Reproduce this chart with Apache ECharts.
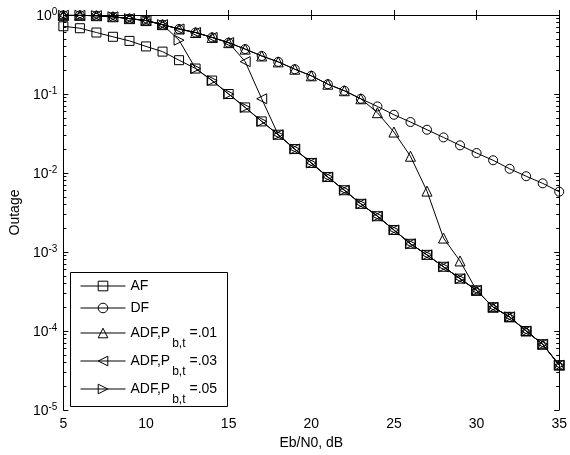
<!DOCTYPE html>
<html>
<head>
<meta charset="utf-8">
<script src="https://cdn.jsdelivr.net/npm/echarts@6/dist/echarts.min.js"></script>
<style>
html,body{margin:0;padding:0;background:#fff;}
#chart{width:570px;height:455px;}
</style>
</head>
<body>
<div id="chart"></div>
<script>
// Eb/N0 in dB
const snr = [5,6,7,8,9,10,11,12,13,14,15,16,17,18,19,20,21,22,23,24,25,26,27,28,29,30,31,32,33,34,35];
// Outage probability per scheme
const afVals = [0.72,0.68,0.60,0.53,0.47,0.40,0.344,0.268,0.21,0.148,0.100,0.0676,0.045,0.0305,0.0201,0.0134,0.0089,0.00605,0.00407,0.00284,0.0019,0.00127,0.00092,0.00065,0.00046,0.000327,0.0002,0.000151,0.0001,0.000068,0.000037];
const dfVals = [0.99,0.99,0.98,0.95,0.90,0.85,0.755,0.665,0.60,0.52,0.447,0.37,0.303,0.255,0.206,0.17,0.133,0.11,0.087,0.0696,0.0546,0.0442,0.0353,0.0282,0.0224,0.0179,0.0145,0.0113,0.0091,0.0074,0.0058];
const adf01Vals = [0.99,0.99,0.98,0.95,0.90,0.85,0.755,0.665,0.60,0.52,0.447,0.37,0.303,0.255,0.206,0.17,0.133,0.11,0.087,0.058,0.033,0.0163,0.0059,0.0015,0.00077,0.000327,0.0002,0.000151,0.0001,0.000068,0.000037];
const adf03Vals = [0.99,0.99,0.98,0.95,0.90,0.85,0.755,0.665,0.60,0.52,0.447,0.257,0.087,0.0305,0.0201,0.0134,0.0089,0.00605,0.00407,0.00284,0.0019,0.00127,0.00092,0.00065,0.00046,0.000327,0.0002,0.000151,0.0001,0.000068,0.000037];
const adf05Vals = [0.99,0.99,0.98,0.95,0.90,0.85,0.755,0.48,0.21,0.148,0.100,0.0676,0.045,0.0305,0.0201,0.0134,0.0089,0.00605,0.00407,0.00284,0.0019,0.00127,0.00092,0.00065,0.00046,0.000327,0.0002,0.000151,0.0001,0.000068,0.000037];
const seriesNames = ['AF','DF','ADF,Pb,t=.01','ADF,Pb,t=.03','ADF,Pb,t=.05'];
const xTicks = [5,10,15,20,25,30,35];
const yDecades = [-5,-4,-3,-2,-1,0];

const legendLabels = {
  'AF': '{m|AF}',
  'DF': '{m|DF}',
  'ADF,Pb,t=.01': '{m|ADF,P}{s|b,t}{m|=.01}',
  'ADF,Pb,t=.03': '{m|ADF,P}{s|b,t}{m|=.03}',
  'ADF,Pb,t=.05': '{m|ADF,P}{s|b,t}{m|=.05}'
};
const FONT = 'Liberation Sans, Arial, sans-serif';

const minorTicks = [];
yDecades.forEach(function (d) {
  if (d < 0) {
    for (let k = 2; k <= 9; k++) minorTicks.push(d + Math.log10(k));
  }
});

const symbols = ['rect', 'circle', 'triangle', 'path://M0,5 L10,0 L10,10 Z', 'path://M0,0 L10,5 L0,10 Z'];
const symbolSizes = [9, 9, 10, 10, 10];
const valueSets = [afVals, dfVals, adf01Vals, adf03Vals, adf05Vals];

const series = seriesNames.map(function (name, i) {
  return {
    name: name,
    type: 'line',
    xAxisIndex: 0,
    yAxisIndex: 0,
    data: snr.map(function (x, j) { return [x, valueSets[i][j]]; }),
    symbol: symbols[i],
    symbolSize: symbolSizes[i],
    showAllSymbol: true,
    animation: false,
    z: 2,
    lineStyle: { color: '#000', width: 1 },
    itemStyle: { color: 'rgba(0,0,0,0)', borderColor: '#000', borderWidth: 1 },
    emphasis: { disabled: true }
  };
});

const legendTops = [279, 301, 326, 354, 382];
const legends = seriesNames.map(function (name, i) {
  return {
    data: [name],
    left: 80,
    top: legendTops[i],
    padding: 0,
    itemWidth: 45,
    itemHeight: 12,
    selectedMode: false,
    lineStyle: { color: '#000', width: 1 },
    itemStyle: { color: 'rgba(0,0,0,0)', borderColor: '#000', borderWidth: 1 },
    formatter: function (n) { return legendLabels[n]; },
    textStyle: {
      fontFamily: FONT,
      color: '#000',
      rich: {
        m: { fontSize: 14, fontFamily: FONT, color: '#000' },
        s: { fontSize: 12, fontFamily: FONT, color: '#000', padding: [22, 4, 0, 2] }
      }
    }
  };
});

const chart = echarts.init(document.getElementById('chart'), null, { renderer: 'canvas' });
chart.setOption({
  animation: false,
  backgroundColor: '#fff',
  grid: { left: 61, right: 8, top: 15, bottom: 44 },
  legend: legends,
  graphic: [{
    type: 'rect',
    shape: { x: 70.5, y: 272.5, width: 157, height: 134 },
    style: { fill: '#fff', stroke: '#000', lineWidth: 1 },
    z: 3
  }],
  xAxis: [{
    type: 'value',
    min: 5, max: 35, interval: 5,
    position: 'bottom',
    name: 'Eb/N0, dB',
    nameLocation: 'middle',
    nameGap: 26,
    nameTextStyle: { fontFamily: FONT, fontSize: 14, color: '#000' },
    axisLine: { show: true, lineStyle: { color: '#000', width: 1 } },
    axisTick: { show: true, inside: true, length: 5, lineStyle: { color: '#000' } },
    axisLabel: { show: true, margin: 7, fontFamily: FONT, fontSize: 14, color: '#000',
      customValues: xTicks },
    splitLine: { show: false }
  }, {
    type: 'value',
    min: 5, max: 35, interval: 5,
    position: 'top',
    axisLine: { show: true, lineStyle: { color: '#000', width: 1 } },
    axisTick: { show: true, inside: true, length: 5, lineStyle: { color: '#000' } },
    axisLabel: { show: false },
    splitLine: { show: false }
  }],
  yAxis: [{
    type: 'log',
    logBase: 10,
    min: 1e-5, max: 1,
    position: 'left',
    name: 'Outage',
    nameLocation: 'middle',
    nameGap: 40,
    nameRotate: 90,
    nameTextStyle: { fontFamily: FONT, fontSize: 14, color: '#000' },
    axisLine: { show: true, lineStyle: { color: '#000', width: 1 } },
    axisTick: { show: true, inside: true, length: 5, lineStyle: { color: '#000' } },
    axisLabel: {
      show: true, margin: 6, fontFamily: FONT, color: '#000',
      formatter: function (v) {
        const e = Math.round(Math.log10(v));
        return '{b|10}{s|' + e + '}';
      },
      rich: {
        b: { fontSize: 14, fontFamily: FONT, color: '#000', verticalAlign: 'bottom' },
        s: { fontSize: 10, fontFamily: FONT, color: '#000', verticalAlign: 'top', lineHeight: 16 }
      }
    },
    splitLine: { show: false }
  }, {
    type: 'value', min: -5, max: 0, position: 'left',
    axisLine: { show: false },
    axisTick: { show: true, inside: true, length: 3, customValues: minorTicks, lineStyle: { color: '#000' } },
    axisLabel: { show: false },
    splitLine: { show: false }
  }, {
    type: 'value', min: -5, max: 0, position: 'right',
    axisLine: { show: true, lineStyle: { color: '#000', width: 1 } },
    axisTick: { show: true, inside: true, length: 5, customValues: yDecades, lineStyle: { color: '#000' } },
    axisLabel: { show: false },
    splitLine: { show: false }
  }, {
    type: 'value', min: -5, max: 0, position: 'right',
    axisLine: { show: false },
    axisTick: { show: true, inside: true, length: 3, customValues: minorTicks, lineStyle: { color: '#000' } },
    axisLabel: { show: false },
    splitLine: { show: false }
  }],
  series: series
});
</script>
</body>
</html>
